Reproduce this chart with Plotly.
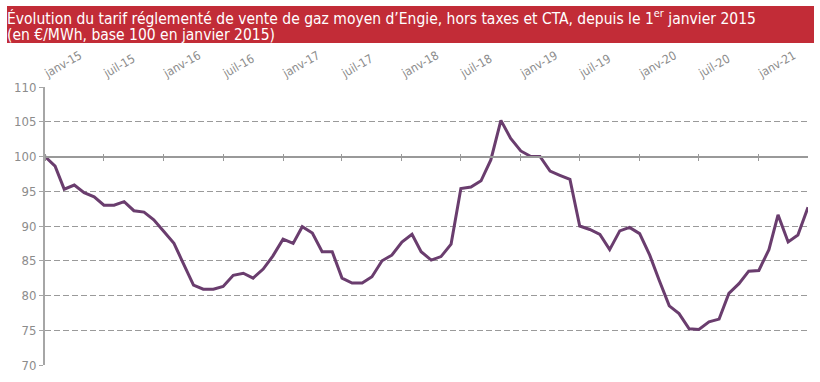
import plotly.graph_objects as go
import pandas as pd

values = [100.0, 98.6, 95.3, 95.9, 94.8, 94.2, 93.0, 93.0, 93.5, 92.2, 92.0, 90.9,
          89.2, 87.5, 84.6, 81.5, 80.9, 80.9, 81.3, 82.9, 83.2, 82.5, 83.8, 85.7,
          88.1, 87.5, 89.9, 89.0, 86.3, 86.3, 82.5, 81.8, 81.8, 82.7, 85.0, 85.8,
          87.7, 88.8, 86.3, 85.1, 85.6, 87.4, 95.4, 95.6, 96.5, 99.5, 105.2, 102.6,
          100.8, 100.0, 100.0, 97.9, 97.3, 96.7, 90.0, 89.5, 88.8, 86.6, 89.3, 89.8,
          88.9, 85.8, 82.2, 78.5, 77.4, 75.2, 75.1, 76.2, 76.6, 80.3, 81.7, 83.5,
          83.6, 86.6, 91.6, 87.7, 88.7, 92.7]
dates = pd.date_range("2015-01-01", periods=len(values), freq="MS")

tick_dates = pd.date_range("2015-01-01", "2021-01-01", freq="6MS")
tick_labels = ["janv-15", "juil-15", "janv-16", "juil-16", "janv-17", "juil-17",
               "janv-18", "juil-18", "janv-19", "juil-19", "janv-20", "juil-20", "janv-21"]

title_line1 = ("Évolution du tarif réglementé de vente de gaz moyen d’Engie, hors taxes et CTA, "
               "depuis le 1<sup>er</sup> janvier 2015")
title_line2 = "(en €/MWh, base 100 en janvier 2015)"

W, H = 820, 382
ML, MR, MT, MB = 45, 12, 87, 17
PW, PH = W - ML - MR, H - MT - MB
FONT = "DejaVu Sans Condensed, Roboto, sans-serif"
GRAY = "#8c8c8c"


def px_x(px):
    return (px - ML) / PW


def px_y(py):
    return (H - MB - py) / PH


fig = go.Figure()
fig.add_trace(go.Scatter(x=dates, y=values, mode="lines",
                         line=dict(color="#6a3d6e", width=3), showlegend=False,
                         hoverinfo="skip", cliponaxis=False))
for ax in ["x2", "x3"]:
    fig.add_trace(go.Scatter(x=[dates[0], dates[-1]], y=[100, 100], xaxis=ax,
                             mode="lines", line=dict(width=0), showlegend=False,
                             hoverinfo="skip"))

xrange = [dates[0], dates[-1]]
pos100 = (100 - 70) / 40

fig.update_layout(
    width=W, height=H,
    margin=dict(l=ML, r=MR, t=MT, b=MB, autoexpand=False),
    paper_bgcolor="white", plot_bgcolor="white",
    font=dict(family=FONT, color=GRAY),
    xaxis=dict(range=xrange, side="top", tickvals=tick_dates, ticktext=tick_labels,
               tickangle=-30, showgrid=False, showline=False, ticks="",
               ticklabelshift=0, ticklabelstandoff=5, automargin=False,
               zeroline=False, tickfont=dict(size=12, color=GRAY, family=FONT)),
    xaxis2=dict(range=xrange, overlaying="x", anchor="free", position=pos100,
                side="bottom", tickvals=tick_dates, showticklabels=False,
                ticks="outside", ticklen=4, tickcolor="#999999", tickwidth=1,
                showline=True, linecolor="#999999", linewidth=1.5, showgrid=False,
                zeroline=False, automargin=False),
    xaxis3=dict(range=xrange, overlaying="x", anchor="free", position=pos100,
                side="top", tickvals=tick_dates, showticklabels=False,
                ticks="outside", ticklen=3, tickcolor="#999999", tickwidth=1,
                showline=False, showgrid=False, zeroline=False, automargin=False),
    yaxis=dict(range=[70, 110], dtick=5, showgrid=True, gridcolor="#9a9a9a",
               griddash="6px,3px", gridwidth=1.3, showline=True,
               linecolor="#a6a6a6", linewidth=2, ticks="outside", ticklen=4,
               tickcolor="#a6a6a6", zeroline=False, automargin=False,
               tickfont=dict(size=13, color=GRAY, family=FONT)),
    annotations=[
        dict(text=title_line1, xref="paper", yref="paper",
             x=px_x(5), y=px_y(17), xanchor="left", yanchor="middle",
             align="left", showarrow=False,
             font=dict(family=FONT, size=15.5, color="white")),
        dict(text=title_line2, xref="paper", yref="paper",
             x=px_x(5), y=px_y(34.5), xanchor="left", yanchor="middle",
             align="left", showarrow=False,
             font=dict(family=FONT, size=15.5, color="white")),
    ],
    shapes=[dict(type="rect", xref="paper", yref="paper",
                 x0=px_x(7), x1=px_x(814), y0=px_y(43), y1=px_y(6),
                 fillcolor="#c22c37", line=dict(width=0), layer="below")],
)

fig.write_html("out.html", config={"displayModeBar": False},
               post_script="document.body.style.margin='0';")
